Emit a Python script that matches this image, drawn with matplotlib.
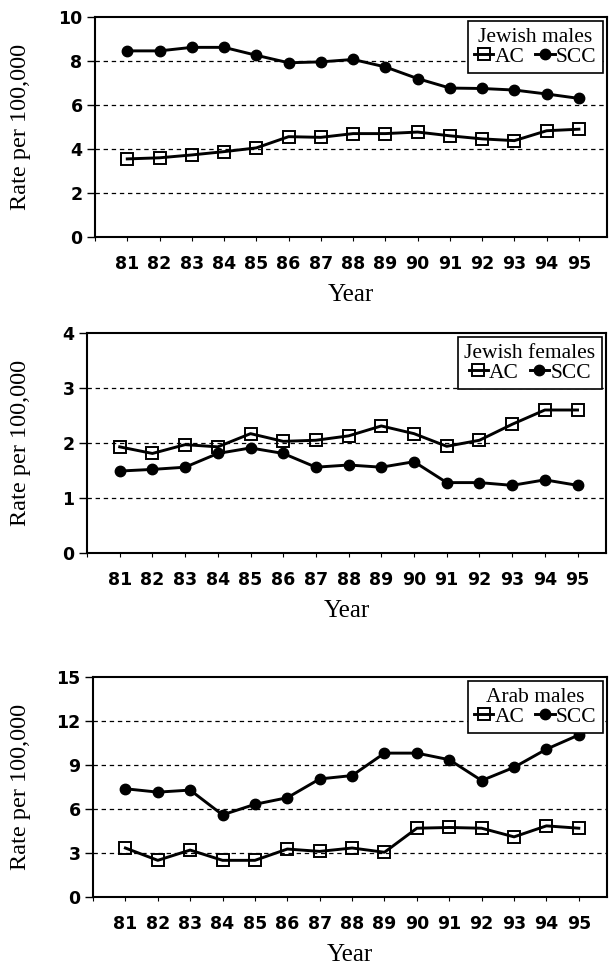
import matplotlib
matplotlib.use("Agg")
import matplotlib.pyplot as plt
from matplotlib import transforms as mtransforms

# data (rate per 100,000)
years = [81, 82, 83, 84, 85, 86, 87, 88, 89, 90, 91, 92, 93, 94, 95]

jm_ac = [3.55, 3.6, 3.73, 3.88, 4.05, 4.56, 4.53, 4.7, 4.7, 4.77, 4.6, 4.46, 4.38, 4.83, 4.9]
jm_scc = [8.46, 8.46, 8.62, 8.62, 8.26, 7.92, 7.96, 8.07, 7.73, 7.2, 6.77, 6.75, 6.68, 6.5, 6.3]

jf_ac = [1.93, 1.81, 1.97, 1.93, 2.17, 2.03, 2.05, 2.13, 2.31, 2.17, 1.94, 2.05, 2.34, 2.6, 2.6]
jf_scc = [1.49, 1.52, 1.56, 1.81, 1.91, 1.81, 1.56, 1.6, 1.56, 1.66, 1.28, 1.28, 1.23, 1.33, 1.23]

am_ac = [3.34, 2.5, 3.2, 2.5, 2.5, 3.27, 3.11, 3.34, 3.05, 4.69, 4.74, 4.69, 4.1, 4.85, 4.69]
am_scc = [7.38, 7.15, 7.29, 5.6, 6.32, 6.77, 8.05, 8.28, 9.81, 9.81, 9.36, 7.94, 8.84, 10.08, 11.05]

titles = ["Jewish males", "Jewish females", "Arab males"]
y_max = [10, 4, 15]
y_step = [2, 1, 3]

SERIF = ["Liberation Serif", "DejaVu Serif"]
TICKS = ["DejaVu Sans Condensed", "DejaVu Sans"]
W, H = 609, 965

fig = plt.figure(figsize=(W / 100, H / 100), dpi=100)

# axes boxes in pixels: left, right, top, bottom
boxes = [(95, 607, 17, 237), (87, 606, 333, 553), (93, 607, 677, 897)]


def draw_panel(box, title, ac, scc, ymax, ystep):
    l, r, t, b = box
    ax = fig.add_axes([l / W, 1 - b / H, (r - l) / W, (b - t) / H])

    ax.plot(years, ac, color="k", lw=2.1, marker="s", ms=8, mfc="none",
            mec="k", mew=1.4, zorder=3, label="AC")
    ax.plot(years, scc, color="k", lw=2.1, marker="o", ms=7.5, zorder=3,
            label="SCC")

    ax.set_xlim(80, 95.87)
    ax.set_ylim(0, ymax)

    yt = list(range(0, ymax + 1, ystep))
    ax.set_yticks(yt)
    for y in yt[1:-1]:
        ax.axhline(y, color="k", lw=0.9, ls=(0, (3.5, 3)), zorder=1)

    ax.set_xticks(range(80, 96))
    ax.set_xticklabels([""] + [str(y) for y in years])

    ax.tick_params(axis="x", direction="out", length=3, width=0.8, pad=10)
    ax.tick_params(axis="y", direction="out", length=6, width=1, pad=3)
    for lab in ax.get_xticklabels() + ax.get_yticklabels():
        lab.set_family(TICKS)
        lab.set_fontsize(12.5)
        lab.set_fontweight("bold")
    for s in ax.spines.values():
        s.set_linewidth(1.5)

    ax.set_ylabel("Rate per 100,000", family=SERIF, fontsize=17.5)
    ax.yaxis.set_label_coords(
        21 / W, 0.5,
        transform=mtransforms.blended_transform_factory(fig.transFigure, ax.transAxes))
    ax.yaxis.label.set_va("center")

    ax.set_xlabel("Year", family=SERIF, fontsize=18)
    ax.xaxis.set_label_coords(0.5, -58 / (b - t))
    ax.xaxis.label.set_va("center")

    leg = ax.legend(title=title, ncol=2, loc="upper right", fancybox=False,
                    edgecolor="k", framealpha=1, borderaxespad=0.2,
                    handlelength=0.9, handletextpad=0.05, columnspacing=0.5,
                    borderpad=0.3, labelspacing=0.1,
                    prop={"family": SERIF, "size": 15.5},
                    title_fontproperties={"family": SERIF, "size": 15.5})
    leg.get_frame().set_linewidth(1.2)
    leg._legend_box.sep = 0
    return ax


draw_panel(boxes[0], titles[0], jm_ac, jm_scc, y_max[0], y_step[0])
draw_panel(boxes[1], titles[1], jf_ac, jf_scc, y_max[1], y_step[1])
draw_panel(boxes[2], titles[2], am_ac, am_scc, y_max[2], y_step[2])

fig.savefig("out.png", dpi=100)
